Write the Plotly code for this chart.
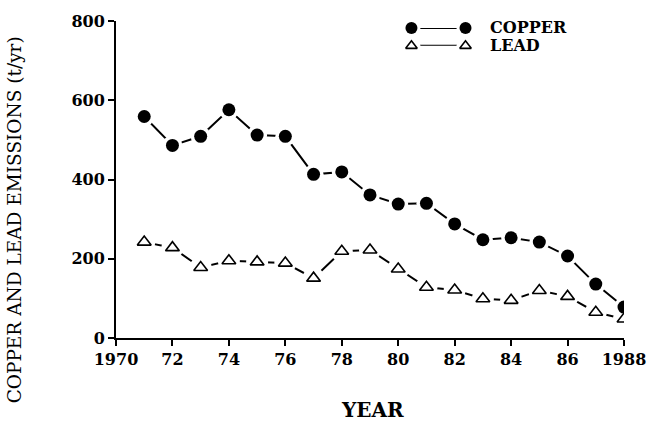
import plotly.graph_objects as go

# Annual emissions (t/yr)
years = list(range(1971, 1989))
copper = [559, 486, 509, 576, 512, 509, 413, 419, 361, 338, 340, 288, 248, 253, 242, 207, 136, 78]
lead = [242, 228, 178, 195, 192, 189, 151, 219, 222, 174, 128, 121, 99, 95, 120, 105, 65, 48]

x_ticks = [1970, 1972, 1974, 1976, 1978, 1980, 1982, 1984, 1986, 1988]
x_tick_text = ["1970", "72", "74", "76", "78", "80", "82", "84", "86", "1988"]
y_ticks = [0, 200, 400, 600, 800]

series_names = ["COPPER", "LEAD"]
legend_level = [1, 0]

FONT = "DejaVu Serif"
INK = "black"

fig = go.Figure()

# connecting lines (gaps around markers come from white masks drawn on top)
for vals in (lead, copper):
    fig.add_trace(go.Scatter(x=years, y=vals, mode="lines",
                             line=dict(color=INK, width=2), hoverinfo="skip",
                             showlegend=False))
# white masks that open a gap between each marker and its line
fig.add_trace(go.Scatter(x=years, y=lead, mode="markers",
                         marker=dict(symbol="circle", size=22, color="white"),
                         hoverinfo="skip", showlegend=False))
fig.add_trace(go.Scatter(x=years, y=copper, mode="markers",
                         marker=dict(symbol="circle", size=20, color="white"),
                         hoverinfo="skip", showlegend=False))
# markers
fig.add_trace(go.Scatter(x=years, y=lead, mode="markers", name="LEAD",
                         marker=dict(symbol="triangle-up", size=12, color="white",
                                     line=dict(color=INK, width=1.6)),
                         showlegend=False))
fig.add_trace(go.Scatter(x=years, y=copper, mode="markers", name="COPPER",
                         marker=dict(symbol="circle", size=13, color=INK),
                         showlegend=False))

# legend keys: marker - line - marker on a small auxiliary axis pair
key_x = [0, 1]
for lvl, sym in ((legend_level[0], "circle"), (legend_level[1], "triangle-up")):
    fig.add_trace(go.Scatter(x=key_x, y=[lvl, lvl], mode="lines", xaxis="x2", yaxis="y2",
                             line=dict(color=INK, width=2), hoverinfo="skip",
                             showlegend=False, cliponaxis=False))
    fig.add_trace(go.Scatter(x=key_x, y=[lvl, lvl], mode="markers", xaxis="x2", yaxis="y2",
                             marker=dict(symbol="circle", size=18, color="white"),
                             hoverinfo="skip", showlegend=False, cliponaxis=False))
    if sym == "circle":
        mk = dict(symbol=sym, size=12, color=INK)
    else:
        mk = dict(symbol=sym, size=10, color="white", line=dict(color=INK, width=1.6))
    fig.add_trace(go.Scatter(x=key_x, y=[lvl, lvl], mode="markers", xaxis="x2", yaxis="y2",
                             marker=mk, hoverinfo="skip", showlegend=False, cliponaxis=False))

legend_y = [0.978, 0.9216]
for name, ly in zip(series_names, legend_y):
    fig.add_annotation(x=0.7325, y=ly, xref="paper", yref="paper", text=name, showarrow=False,
                       xanchor="left", yanchor="middle",
                       font=dict(family=FONT, size=16, color=INK, weight="bold"))

axis_font = dict(family=FONT, size=16, color=INK, weight="bold")

fig.update_layout(
    width=658, height=424,
    margin=dict(l=116, r=25, t=19, b=86),
    paper_bgcolor="white", plot_bgcolor="white",
    showlegend=False,
    xaxis=dict(range=[1970, 1988], tickvals=x_ticks, ticktext=x_tick_text,
               showline=True, linecolor=INK, linewidth=2, showgrid=False, zeroline=False,
               ticks="outside", ticklen=6, tickwidth=2, tickcolor=INK,
               tickfont=axis_font, anchor="y"),
    yaxis=dict(range=[0, 800], tickvals=y_ticks,
               showline=True, linecolor=INK, linewidth=2, showgrid=False, zeroline=False,
               ticks="outside", ticklen=6, tickwidth=2, tickcolor=INK,
               tickfont=axis_font, anchor="x"),
    # inner half of the crossing tick marks
    xaxis3=dict(range=[1970, 1988], tickvals=x_ticks, overlaying="x", anchor="y",
                showticklabels=False, showline=False, showgrid=False, zeroline=False,
                ticks="inside", ticklen=5, tickwidth=2, tickcolor=INK),
    yaxis3=dict(range=[0, 800], tickvals=y_ticks, overlaying="y", anchor="x",
                showticklabels=False, showline=False, showgrid=False, zeroline=False,
                ticks="inside", ticklen=2, tickwidth=2, tickcolor=INK),
    xaxis2=dict(domain=[0.5816, 0.688], range=[0, 1], visible=False, anchor="y2"),
    yaxis2=dict(domain=[0.9216, 0.978], range=[0, 1], visible=False, anchor="x2"),
)

fig.add_annotation(x=-0.2002, y=0.372, xref="paper", yref="paper",
                   text="COPPER AND LEAD EMISSIONS (t/yr)", textangle=-90,
                   showarrow=False, xanchor="center", yanchor="middle",
                   font=dict(family=FONT, size=18.5, color=INK))
fig.add_annotation(x=0.505, y=-0.2257, xref="paper", yref="paper", text="YEAR",
                   showarrow=False, xanchor="center", yanchor="middle",
                   font=dict(family=FONT, size=20, color=INK, weight="bold"))

fig.write_html("out.html")
